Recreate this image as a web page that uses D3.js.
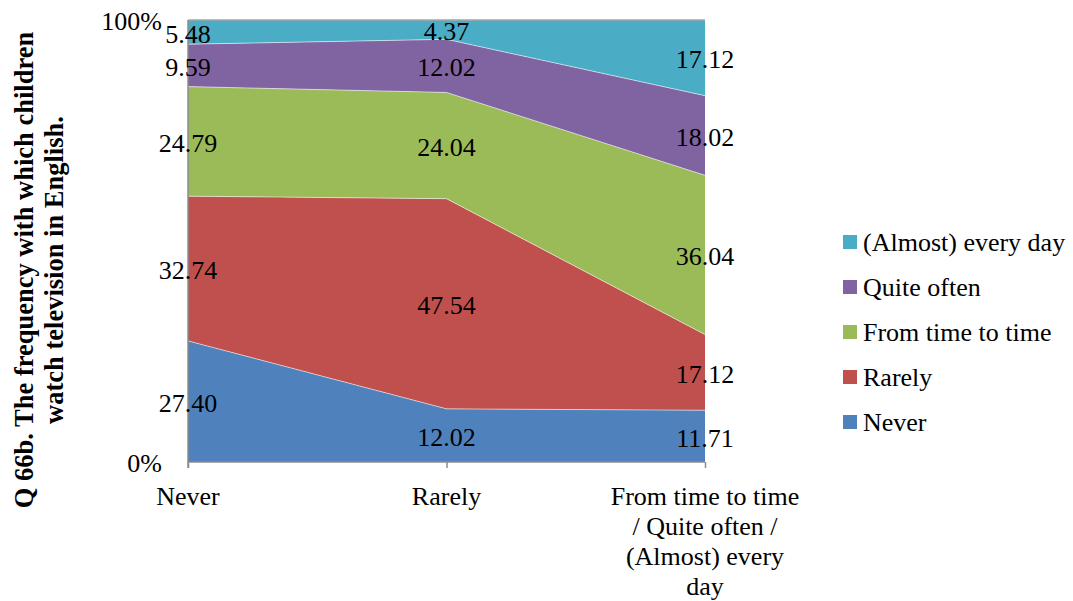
<!DOCTYPE html>
<html>
<head>
<meta charset="utf-8">
<script src="https://cdn.jsdelivr.net/npm/d3@7"></script>
<style>
  html, body { margin: 0; padding: 0; background: #fff; }
</style>
</head>
<body>
<svg id="chart" width="1073" height="601"></svg>
<script>
// Categories along the x axis (with their wrapped label lines)
const categories = ["Never", "Rarely", "From time to time / Quite often / (Almost) every day"];
const categoryLines = [["Never"], ["Rarely"], ["From time to time", "/ Quite often /", "(Almost) every", "day"]];

// Series, bottom to top of the stack
const seriesNames = ["Never", "Rarely", "From time to time", "Quite often", "(Almost) every day"];
const never       = [27.40, 12.02, 11.71];
const rarely      = [32.74, 47.54, 17.12];
const fromTime    = [24.79, 24.04, 36.04];
const quiteOften  = [9.59, 12.02, 18.02];
const almostDaily = [5.48, 4.37, 17.12];
const seriesColors = ["#4F81BD", "#C0504D", "#9BBB59", "#8064A2", "#4BACC6"];

const yTickValues = [0, 1];
const axisTitleLines = ["Q 66b. The frequency with which children", "watch television in English."];

const seriesValues = [never, rarely, fromTime, quiteOften, almostDaily];
const rows = categories.map((c, i) => {
  const r = { category: c };
  seriesNames.forEach((s, k) => { r[s] = seriesValues[k][i]; });
  return r;
});

const FONT = "'Liberation Serif', 'Times New Roman', serif";
const svg = d3.select("#chart").style("font-family", FONT);
const plot = { left: 188, right: 705, top: 20, bottom: 462 };
const fontSize = 26;

const x = d3.scalePoint().domain(categories).range([plot.left, plot.right]);
const y = d3.scaleLinear().domain([0, 1]).range([plot.bottom, plot.top]);

const stack = d3.stack().keys(seriesNames).offset(d3.stackOffsetExpand);
const layers = stack(rows);

const area = d3.area()
  .x(d => x(d.data.category))
  .y0(d => y(d[0]))
  .y1(d => y(d[1]));

// Stacked areas
svg.append("g").selectAll("path")
  .data(layers)
  .join("path")
  .attr("d", area)
  .attr("fill", (d, i) => seriesColors[i]);

// Thin light seams between bands
const topLine = d3.line().x(d => x(d.data.category)).y(d => y(d[1]));
svg.append("g").selectAll("path")
  .data(layers.slice(0, -1))
  .join("path")
  .attr("d", topLine)
  .attr("fill", "none")
  .attr("stroke", "rgba(255,255,255,0.55)")
  .attr("stroke-width", 1);

// Gray line along 100%
svg.append("line")
  .attr("x1", plot.left).attr("x2", plot.right)
  .attr("y1", y(1)).attr("y2", y(1))
  .attr("stroke", "#a6a6a6").attr("stroke-width", 1.5);

// Y axis
const yAxis = svg.append("g")
  .attr("transform", `translate(${plot.left},0)`)
  .call(d3.axisLeft(y).tickValues(yTickValues).tickFormat(d3.format(".0%")).tickSize(0).tickPadding(26));
yAxis.select(".domain").attr("stroke", "#8c8c8c").attr("stroke-width", 1.5)
  .attr("d", `M0,${plot.top}V${plot.bottom + 6}`);
yAxis.selectAll("text")
  .attr("dy", "0.38em")
  .style("font-family", FONT).style("font-size", fontSize + "px").attr("fill", "#000");

// X axis
const xAxis = svg.append("g")
  .attr("transform", `translate(0,${plot.bottom})`)
  .call(d3.axisBottom(x).tickSize(6).tickFormat(""));
xAxis.select(".domain").attr("stroke", "#8c8c8c").attr("stroke-width", 1.5)
  .attr("d", `M${plot.left},0H${plot.right}`);
xAxis.selectAll(".tick line").attr("stroke", "#8c8c8c").attr("stroke-width", 1.5);

// Category labels (wrapped)
const catLabels = svg.append("g").selectAll("text")
  .data(categories)
  .join("text")
  .attr("text-anchor", "middle")
  .style("font-family", FONT)
  .style("font-size", fontSize + "px")
  .attr("fill", "#000")
  .attr("x", d => x(d))
  .attr("y", plot.bottom + 43);
catLabels.each(function (d, i) {
  d3.select(this).selectAll("tspan")
    .data(categoryLines[i])
    .join("tspan")
    .attr("x", x(d))
    .attr("dy", (t, j) => j === 0 ? 0 : 30)
    .text(t => t);
});

// Data labels at the middle of each band
const labelData = layers.flatMap((layer, k) =>
  layer.map((d, i) => ({ cx: x(d.data.category), cy: y((d[0] + d[1]) / 2), v: seriesValues[k][i] })));
svg.append("g").selectAll("text")
  .data(labelData)
  .join("text")
  .attr("x", d => d.cx)
  .attr("y", d => d.cy)
  .attr("dy", "0.4em")
  .attr("text-anchor", "middle")
  .style("font-family", FONT)
  .style("font-size", fontSize + "px")
  .attr("fill", "#000")
  .text(d => d3.format(".2f")(d.v));

// Axis title
const title = svg.append("text")
  .attr("transform", "translate(0,270) rotate(-90)")
  .attr("text-anchor", "middle")
  .style("font-family", FONT)
  .style("font-weight", "bold")
  .style("font-size", "26.5px")
  .attr("fill", "#000");
title.selectAll("tspan")
  .data(axisTitleLines)
  .join("tspan")
  .attr("x", 0)
  .attr("y", (d, i) => 33 + i * 30)
  .text(d => d);

// Legend, top entry is the top band
const legendItems = seriesNames.map((s, i) => ({ name: s, color: seriesColors[i] })).reverse();
const legend = svg.append("g").selectAll("g")
  .data(legendItems)
  .join("g")
  .attr("transform", (d, i) => `translate(843,${242 + i * 45})`);
legend.append("rect")
  .attr("x", 0).attr("y", -7).attr("width", 14).attr("height", 14)
  .attr("fill", d => d.color);
legend.append("text")
  .attr("x", 20).attr("dy", "0.35em")
  .style("font-family", FONT)
  .style("font-size", fontSize + "px")
  .attr("fill", "#000")
  .text(d => d.name);
</script>
</body>
</html>
